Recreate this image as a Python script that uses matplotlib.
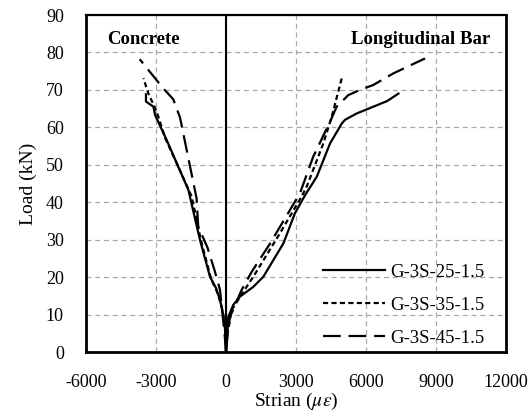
import matplotlib
matplotlib.use("Agg")
import matplotlib.pyplot as plt

# Load–strain data (strain in microstrain, load in kN)
conc_25_strain = [0, -40, -120, -257, -420, -686, -1114, -1614, -2110, -2570, -3040, -3110, -3430, -3430]
conc_25_load = [0, 6, 10, 13.9, 17, 20.1, 29.9, 43.3, 50.4, 57, 63.3, 65.5, 66.9, 68.8]

conc_35_strain = [0, -30, -90, -200, -380, -640, -1080, -1470, -2110, -2600, -2970, -3330, -3540]
conc_35_load = [0, 5, 9, 12.5, 16, 19.5, 30, 41.5, 50.4, 57, 64.2, 69.1, 73.1]

conc_45_strain = [0, -50, -110, -257, -500, -800, -1190, -1260, -1970, -2260, -2690, -3700]
conc_45_load = [0, 4, 7.7, 16.6, 22, 28, 33.5, 41, 62.6, 67.5, 70.4, 78.2]

bar_25_strain = [0, 60, 100, 314, 600, 1170, 1600, 2460, 2950, 3400, 3890, 4460, 4960, 5100, 5600, 6310, 6900, 7390]
bar_25_load = [0, 5, 9.4, 12.6, 14.8, 17.4, 20.1, 29, 37, 42, 46.8, 55.7, 61, 62, 63.7, 65.5, 67, 69]

bar_35_strain = [0, 40, 243, 743, 1170, 2310, 3240, 3460, 4170, 4530, 4960]
bar_35_load = [0, 4, 11.2, 16.1, 20.1, 31.7, 41.5, 44.2, 55.7, 62.8, 73.1]

bar_45_strain = [0, 60, 171, 671, 1100, 1890, 3170, 3740, 4460, 4740, 5240, 5740, 6310, 7170, 8530]
bar_45_load = [0, 4, 9.4, 16.6, 21.4, 29, 42.4, 52.2, 61.5, 65.5, 68.6, 70, 71.3, 74.4, 78.4]

labels = ["G-3S-25-1.5", "G-3S-35-1.5", "G-3S-45-1.5"]
x_ticks = [-6000, -3000, 0, 3000, 6000, 9000, 12000]
y_ticks = [0, 10, 20, 30, 40, 50, 60, 70, 80, 90]

plt.rcParams["font.family"] = ["Liberation Serif", "DejaVu Serif"]
plt.rcParams["mathtext.fontset"] = "stix"
plt.rcParams["axes.unicode_minus"] = False

fig = plt.figure(figsize=(5.3, 4.19), dpi=100)
ax = fig.add_axes([86 / 530, 1 - 352 / 419, 420 / 530, 337 / 419])

styles = [
    dict(color="black", lw=1.6, linestyle="-"),
    dict(color="black", lw=1.6, linestyle=(0, (2.3, 1.5))),
    dict(color="black", lw=1.6, linestyle=(0, (8.0, 3.5))),
]

series = [
    (conc_25_strain, conc_25_load, bar_25_strain, bar_25_load),
    (conc_35_strain, conc_35_load, bar_35_strain, bar_35_load),
    (conc_45_strain, conc_45_load, bar_45_strain, bar_45_load),
]

for (cs, cl, bs, bl), st, lab in zip(series, styles, labels):
    ax.plot(cs, cl, **st)
    ax.plot(bs, bl, label=lab, **st)

ax.axvline(0, color="black", lw=1.5, zorder=1)

ax.set_xlim(-6000, 12000)
ax.set_ylim(0, 90)
ax.set_xticks(x_ticks)
ax.set_yticks(y_ticks)
ax.tick_params(length=0, labelsize=13)
ax.tick_params(axis="x", pad=16)
ax.tick_params(axis="y", pad=16)
ax.grid(True, color="#a8a8a8", linestyle=(0, (4, 3)), lw=0.9)
ax.set_axisbelow(True)

for side in ["left", "bottom", "right"]:
    ax.spines[side].set_linewidth(2.0)
ax.spines["top"].set_linewidth(1.6)

ax.set_xlabel(r"Strian ($\mu\varepsilon$)", fontsize=14, labelpad=0)
ax.set_ylabel("Load (kN)", fontsize=14, labelpad=6)

ax.text(-5100, 83.4, "Concrete", fontsize=13.5, fontweight="bold", va="center", ha="left")
ax.text(11320, 83.4, "Longitudinal Bar", fontsize=13.5, fontweight="bold", va="center", ha="right")

ax.legend(loc="lower right", frameon=False, fontsize=13.5, handlelength=3.3,
          labelspacing=0.85, handletextpad=0.3, bbox_to_anchor=(0.99, -0.035))

fig.savefig("out.png", dpi=100)
